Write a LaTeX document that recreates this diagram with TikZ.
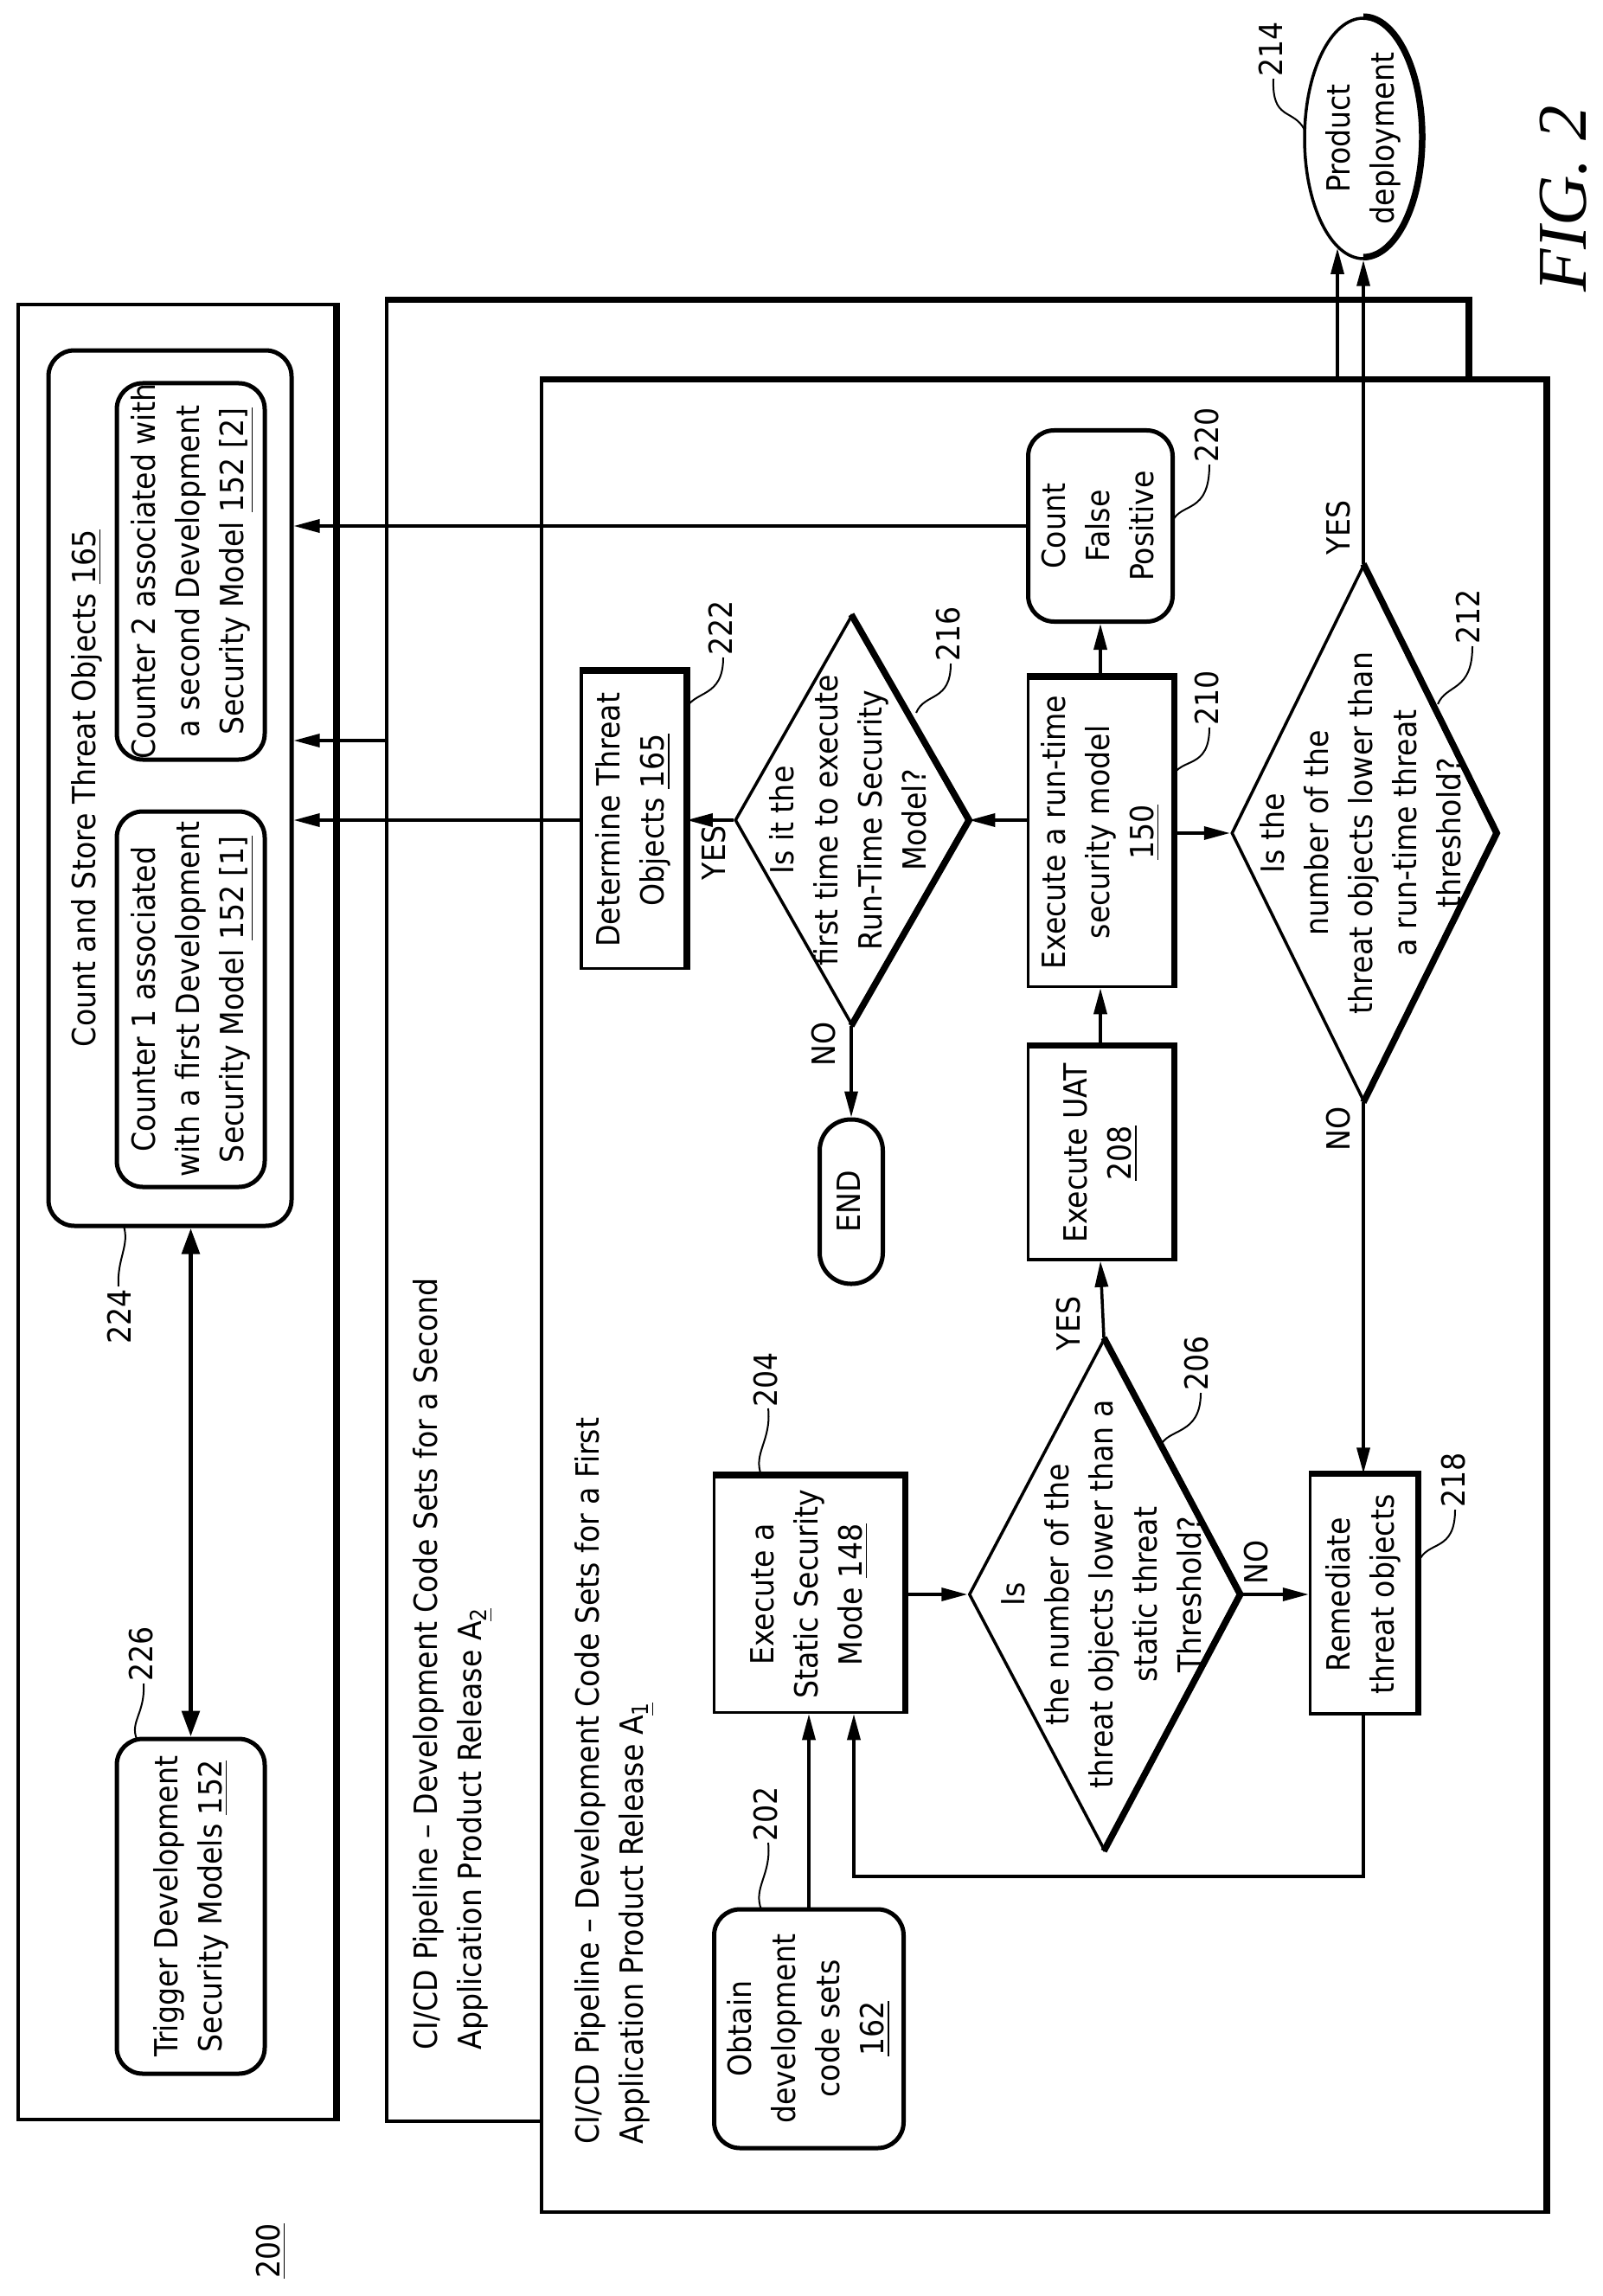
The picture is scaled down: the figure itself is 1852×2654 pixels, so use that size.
\documentclass[tikz,border=0pt]{standalone}
\usepackage{fontspec}
\setmainfont{DejaVu Sans Condensed}
\newfontfamily\figfont{Liberation Serif}
\usetikzlibrary{shapes.geometric,arrows.meta,calc}
\pgfdeclarelayer{bg}\pgfdeclarelayer{conn}\pgfsetlayers{bg,conn,main}
\newcommand{\rt}[1]{\rotatebox{90}{\begin{tabular}{@{}c@{}}#1\end{tabular}}}
\newcommand{\rtl}[1]{\rotatebox{90}{\begin{tabular}{@{}l@{}}#1\end{tabular}}}
\tikzset{
 ln/.style={line width=0.35mm},
 tk/.style={line width=0.75mm},
 box/.style={draw, line width=0.35mm, fill=white, inner sep=0pt, align=center},
 rbox/.style={box, rounded corners=3mm, line width=0.5mm},
 big/.style={draw, line width=0.35mm, fill=white, inner sep=0pt},
 dia/.style={diamond, draw, line width=0.35mm, fill=white, inner sep=0pt},
 arr/.style={line width=0.35mm, -{Triangle[length=3mm,width=1.5mm]}},
 lead/.style={line width=0.2mm},
 lbl/.style={inner sep=0pt},
}
\newcommand{\myshadebox}[1]{\draw[tk] (#1.north west) -- (#1.north east) -- (#1.south east);}
\newcommand{\myshadedia}[1]{\draw[tk] (#1.north) -- (#1.east) -- (#1.south);}
\begin{document}
\begin{tikzpicture}[x=0.1mm,y=-0.1mm,font=\fontsize{10.5}{14.5}\selectfont]
\useasboundingbox (0,0) rectangle (1852,2654);
\begin{pgfonlayer}{bg}
\node[big, minimum width=36.6mm, minimum height=209.8mm] (box1) at (204,1401) {};
\draw[tk] (box1.north east) -- (box1.south east);
\node[big, minimum width=124.9mm, minimum height=210.4mm] (box2) at (1071.5,1400) {};
\myshadebox{box2}
\node[big, minimum width=116mm, minimum height=211.7mm] (A1) at (1206,1498.5) {};
\myshadebox{A1}
\end{pgfonlayer}
\node[lbl, anchor=south] (t2) at (521,2370) {\rtl{CI/CD Pipeline -- Development Code Sets for a Second\\Application Product Release A\textsubscript{\underline{2}}}};
\node[lbl, anchor=south] (t1) at (708,2479) {\rtl{CI/CD Pipeline -- Development Code Sets for a First\\Application Product Release A\textsubscript{\underline{1}}}};
\node[rbox, minimum width=28.1mm, minimum height=101.2mm] (count) at (196.5,911) {};
\node[lbl] (counttxt) at (100,911) {\rt{Count and Store Threat Objects \underline{165}}};
\node[rbox, minimum width=17.1mm, minimum height=43.5mm] (c2) at (220.5,660.5) {\rt{Counter 2 associated with\\a second Development\\Security Model \underline{152 [2]}}};
\node[rbox, minimum width=17.1mm, minimum height=43.4mm] (c1) at (220.5,1155) {\rt{Counter 1 associated\\with a first Development\\Security Model \underline{152 [1]}}};
\node[rbox, minimum width=17.1mm, minimum height=38.7mm] (trig) at (220.5,2203.5) {\rt{Trigger Development\\Security Models \underline{152}}};
\node[rbox, minimum width=21.9mm, minimum height=27.6mm] (obtain) at (935,2345) {\rt{Obtain\\development\\code sets\\\underline{162}}};
\node[box, minimum width=21.9mm, minimum height=27.3mm] (static) at (935,1843) {\rt{Execute a\\Static Security\\Mode \underline{148}}};
\myshadebox{static}
\node[dia, minimum width=31.2mm, minimum height=59mm] (d206) at (1276,1843) {};
\myshadedia{d206}
\node[lbl] (d206t) at (1276,1843) {\rt{Is\\the number of the\\threat objects lower than a\\static threat\\Threshold?}};
\node[box, minimum width=12.3mm, minimum height=27.6mm] (remed) at (1576,1843) {\rt{Remediate\\threat objects}};
\myshadebox{remed}
\node[box, minimum width=16.7mm, minimum height=24.6mm] (uat) at (1272,1333) {\rt{Execute UAT\\\underline{208}}};
\myshadebox{uat}
\node[box, minimum width=16.7mm, minimum height=35.7mm] (runtime) at (1272,962) {\rt{Execute a run-time\\security model\\\underline{150}}};
\myshadebox{runtime}
\node[rbox, minimum width=16.7mm, minimum height=22.1mm] (countfp) at (1272,608) {\rt{Count\\False\\Positive}};
\node[dia, minimum width=26.9mm, minimum height=47.2mm] (d216) at (984,948) {};
\myshadedia{d216}
\node[lbl] (d216t) at (984,948) {\rt{Is it the\\first time to execute\\Run-Time Security\\Model?}};
\node[box, minimum width=12mm, minimum height=34.3mm] (det) at (732,948) {\rt{Determine Threat\\Objects \underline{165}}};
\myshadebox{det}
\node[box, rounded corners=3.6mm, line width=0.5mm, minimum width=7.3mm, minimum height=19mm] (end) at (984,1389) {\rt{END}};
\node[dia, minimum width=30.5mm, minimum height=61.9mm] (d212) at (1576,963) {};
\myshadedia{d212}
\node[lbl] (d212t) at (1576,963) {\rt{Is the\\number of the\\threat objects lower than\\a run-time threat\\threshold?}};
\node[ellipse, draw, line width=0.35mm, fill=white, inner sep=0pt, minimum width=13.6mm, minimum height=27.8mm] (prod) at (1576,160) {};
\draw[tk] (prod.north) arc[start angle=90,end angle=-90,x radius=6.8mm,y radius=13.9mm];
\node[lbl] (prodt) at (1576,160) {\rt{Product\\deployment}};
\coordinate (y856) at (0,856);
\coordinate (lp1) at (1576,2169);
\coordinate (lp2) at (987,2169);
\coordinate (a1top) at (1546,440);
\coordinate (deptip) at (1546,287);
\begin{pgfonlayer}{conn}
\draw[arr] (obtain) -- (static);
\draw[arr] (remed.south) -- (lp1) -- (lp2) -- (lp2 |- static.south);
\draw[arr] (static.east) -- (d206.west);
\draw[arr] (d206.east) -- (remed.west);
\draw[arr] (d206.north) -- (uat.south);
\draw[arr] (uat) -- (runtime);
\draw[arr] (runtime) -- (countfp);
\draw[arr] (runtime.west |- d216) -- (d216.east);
\draw[arr] (runtime.east |- d212) -- (d212.west);
\draw[arr] (d216.west) -- (det.east);
\draw[arr] (d216.south) -- (end.north);
\draw[arr] (det.west) -- (det.west -| count.east);
\draw[arr] (countfp.west) -- (countfp.west -| count.east);
\draw[arr] (box2.west |- y856) -- (y856 -| count.east);
\draw[arr] (d212.north) -- (prod.south);
\draw[arr] (d212.south) -- (remed.north);
\draw[arr] (a1top) -- (deptip);
\draw[line width=0.55mm, {Triangle[length=3mm,width=2mm]}-{Triangle[length=3mm,width=2mm]}] (trig.north) -- (trig.north |- count.south);
\end{pgfonlayer}
\node[lbl] (y206) at (1238,1530) {\rt{YES}};
\node[lbl] (n206) at (1455,1806) {\rt{NO}};
\node[lbl] (y216) at (828,986) {\rt{YES}};
\node[lbl] (n216) at (955,1207) {\rt{NO}};
\node[lbl] (y212) at (1550,610) {\rt{YES}};
\node[lbl] (n212) at (1550,1305) {\rt{NO}};
\node[lbl] (r204) at (888,1595) {\rt{204}};
\draw[lead] (880,1705) .. controls (870,1680) and (892,1665) .. (888,1628);
\node[lbl] (r202) at (888,2097) {\rt{202}};
\draw[lead] (880,2207) .. controls (870,2182) and (892,2167) .. (888,2130);
\node[lbl] (r206) at (1386,1576) {\rt{206}};
\draw[lead] (1341,1672) .. controls (1350,1650) and (1388,1660) .. (1388,1610);
\node[lbl] (r218) at (1683,1711) {\rt{218}};
\draw[lead] (1640,1805) .. controls (1650,1780) and (1682,1795) .. (1682,1745);
\node[lbl] (r220) at (1398,503) {\rt{220}};
\draw[lead] (1355,603) .. controls (1365,580) and (1398,595) .. (1398,537);
\node[lbl] (r210) at (1398,807) {\rt{210}};
\draw[lead] (1355,898) .. controls (1365,875) and (1398,890) .. (1398,841);
\node[lbl] (r212) at (1700,713) {\rt{212}};
\draw[lead] (1662,814) .. controls (1672,790) and (1702,800) .. (1702,747);
\node[lbl] (r216) at (1099,733) {\rt{216}};
\draw[lead] (1059,824) .. controls (1069,800) and (1099,812) .. (1099,767);
\node[lbl] (r222) at (836,726) {\rt{222}};
\draw[lead] (792,821) .. controls (802,797) and (836,808) .. (836,760);
\node[lbl] (r214) at (1472,57) {\rt{214}};
\draw[lead] (1508,150) .. controls (1495,125) and (1470,140) .. (1472,91);
\node[lbl] (r224) at (141,1522) {\rt{224}};
\draw[lead] (143,1417) .. controls (150,1440) and (135,1455) .. (137,1487);
\node[lbl] (r226) at (166,1912) {\rt{226}};
\draw[lead] (158,2010) .. controls (150,1990) and (168,1980) .. (166,1946);
\node[lbl] (r200) at (313,2602) {\rt{\underline{200}}};
\node[lbl] (fig) at (1807,230) {\rotatebox{90}{\figfont\itshape\fontsize{23}{26}\selectfont FIG. 2}};
\end{tikzpicture}
\end{document}
